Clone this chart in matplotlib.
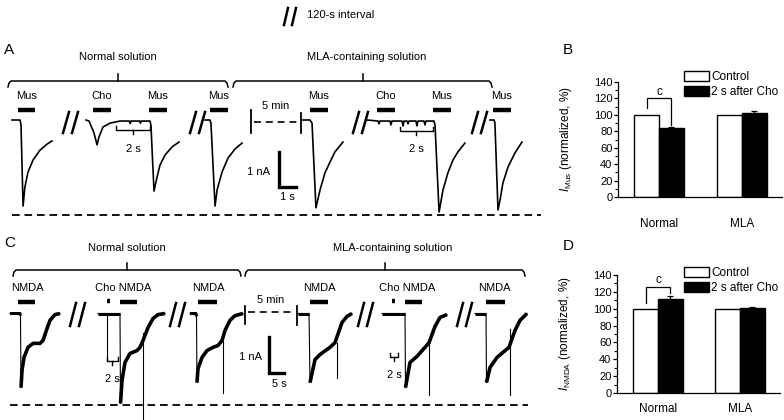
import numpy as np
import matplotlib.pyplot as plt
from matplotlib.patches import Patch

plt.rcParams['font.family'] = ['Liberation Sans', 'DejaVu Sans']
plt.rcParams['mathtext.fontset'] = 'custom'
plt.rcParams['mathtext.rm'] = 'Liberation Sans'
plt.rcParams['mathtext.it'] = 'Liberation Sans:italic'
plt.rcParams['lines.scale_dashes'] = False

# ---------------- panel A traces: time (s), current (nA) ----------------
mus_ctrl_t = [0, 0.47, 0.53, 0.65, 0.76, 0.94, 1.24, 1.65, 2.06, 2.35]
mus_ctrl_i = [0, 0, -0.14, -2.46, -1.91, -1.49, -1.14, -0.86, -0.69, -0.60]

cho_mus_t = [0, 0.18, 0.47, 0.65, 0.76, 1.0, 1.41, 2.0, 2.55, 2.6, 2.65, 3.15, 3.2, 3.25,
             3.76, 3.82, 4.0, 4.18, 4.35, 4.65, 5.06, 5.47]
cho_mus_i = [0, -0.03, -0.37, -0.71, -0.49, -0.2, -0.09, -0.03, -0.03, -0.1, -0.03, -0.03, -0.09, -0.03,
             -0.03, -0.14, -2.03, -1.63, -1.29, -1.0, -0.77, -0.63]

mus_rec_t = [0, 0.29, 0.35, 0.59, 0.71, 1.0, 1.35, 1.76, 2.18]
mus_rec_i = [0, 0, -0.09, -2.46, -2.0, -1.49, -1.09, -0.83, -0.66]

mla_mus_ctrl_t = [0, 0.47, 0.59, 0.82, 1.06, 1.35, 1.65, 1.94, 2.41]
mla_mus_ctrl_i = [0, 0, -0.09, -2.51, -2.0, -1.51, -1.2, -0.91, -0.63]

mla_cho_mus_t = [0, 0.65, 0.71, 0.76, 1.35, 1.41, 1.47, 2.06, 2.12, 2.18, 2.35, 2.41, 2.47,
                 2.88, 2.94, 3.0, 3.35, 3.41, 3.47, 3.94, 4.0, 4.24, 4.47, 4.76, 5.06, 5.35, 5.76]
mla_cho_mus_i = [0, -0.03, -0.11, -0.03, -0.03, -0.14, -0.03, -0.03, -0.17, -0.03, -0.03, -0.11, -0.03,
                 -0.03, -0.17, -0.03, -0.03, -0.14, -0.03, -0.03, -0.14, -2.63, -2.0, -1.51, -1.14, -0.91, -0.66]

mla_mus_rec_t = [0, 0.24, 0.29, 0.47, 0.59, 0.76, 1.06, 1.47, 1.88]
mla_mus_rec_i = [0, 0, -0.09, -2.57, -2.29, -1.8, -1.34, -0.94, -0.63]

# ---------------- panel C traces: time (s), current (nA) ----------------
nmda_ctrl_t = [0, 3.33, 3.5, 3.67, 4.0, 4.67, 6.0, 7.67, 10.0, 11.0, 12.33, 13.33, 15.0, 16.67]
nmda_ctrl_i = [0, 0, -0.06, -2.06, -1.58, -1.22, -0.94, -0.83, -0.83, -0.75, -0.42, -0.19, -0.03, 0]

cho_nmda_t = [0, 6.33, 7.33, 7.5, 8.0, 9.0, 10.67, 13.0, 14.0, 15.0, 16.67, 18.33, 20.0, 22.33]
cho_nmda_i = [0, 0, 0, -2.5, -1.86, -1.36, -1.11, -1.03, -0.94, -0.75, -0.39, -0.14, -0.03, 0]
cho_spike_t, cho_spike_i = 3.0, -1.31

nmda_rec_t = [0, 2.0, 2.17, 2.33, 2.67, 4.0, 5.67, 7.67, 9.33, 10.67, 11.67, 13.33, 15.0, 17.67]
nmda_rec_i = [0, 0, -0.08, -1.92, -1.53, -1.22, -1.03, -0.94, -0.89, -0.75, -0.47, -0.19, -0.06, 0]

mla_nmda_ctrl_t = [0, 3.67, 4.0, 5.67, 7.33, 10.67, 12.33, 14.67, 16.33, 18.0]
mla_nmda_ctrl_i = [0, 0, -1.92, -1.28, -1.14, -0.94, -0.81, -0.25, -0.08, 0]

mla_cho_nmda_t = [0, 7.0, 7.67, 7.83, 9.33, 11.67, 14.33, 15.67, 17.67, 19.33, 21.67]
mla_cho_nmda_i = [0, 0, 0, -2.06, -1.36, -1.19, -0.94, -0.81, -0.36, -0.11, -0.03]

mla_nmda_rec_t = [0, 3.67, 3.83, 5.0, 7.33, 9.33, 11.33, 13.33, 15.0, 17.33]
mla_nmda_rec_i = [0, 0, -1.92, -1.5, -1.22, -1.08, -0.94, -0.47, -0.19, 0]

# artifacts: (time in trace, top nA, bottom nA)
nmda_artifacts = [None, (15.0, -0.53, -3.0), (11.0, -0.75, -2.22),
                  (13.0, -0.81, -1.78), (15.67, -0.81, -2.25), (11.67, -0.44, -2.25)]

# ---------------- bar charts ----------------
groups = ['Normal', 'MLA']
mus_ctrl = [100, 100]
mus_cho = [84, 102.5]
mus_cho_err = [1, 2]
nmda_ctrl = [100, 100]
nmda_cho = [112, 101]
nmda_cho_err = [3, 1]

W, H = 784, 420
fig = plt.figure(figsize=(7.84, 4.2), dpi=100)

# pixel overlay for layout / annotation
ov = fig.add_axes([0, 0, 1, 1])
ov.set_xlim(0, W)
ov.set_ylim(H, 0)
ov.axis('off')

# trace axes in data units (s, nA)
sA, nA_A, yA = 17.0, 35.0, 120.0
sC, nA_C, yC = 3.0, 36.0, 313.5
axA = fig.add_axes([0, 0, 1, 1])
axA.set_xlim(0, W / sA)
axA.set_ylim(-(H - yA) / nA_A, yA / nA_A)
axA.axis('off')
axA.patch.set_alpha(0)
axC = fig.add_axes([0, 0, 1, 1])
axC.set_xlim(0, W / sC)
axC.set_ylim(-(H - yC) / nA_C, yC / nA_C)
axC.axis('off')
axC.patch.set_alpha(0)

onsets_A = [12, 86, 205, 302, 367, 490]
traces_A = [(mus_ctrl_t, mus_ctrl_i), (cho_mus_t, cho_mus_i), (mus_rec_t, mus_rec_i),
            (mla_mus_ctrl_t, mla_mus_ctrl_i), (mla_cho_mus_t, mla_cho_mus_i),
            (mla_mus_rec_t, mla_mus_rec_i)]
for x0, (t, i) in zip(onsets_A, traces_A):
    axA.plot(x0 / sA + np.array(t), i, color='k', lw=1.2)

onsets_C = [10, 98, 190, 298, 382, 475]
traces_C = [(nmda_ctrl_t, nmda_ctrl_i), (cho_nmda_t, cho_nmda_i), (nmda_rec_t, nmda_rec_i),
            (mla_nmda_ctrl_t, mla_nmda_ctrl_i), (mla_cho_nmda_t, mla_cho_nmda_i),
            (mla_nmda_rec_t, mla_nmda_rec_i)]
for k, (x0, (t, i)) in enumerate(zip(onsets_C, traces_C)):
    t = x0 / sC + np.array(t)
    i = np.array(i)
    m = int(np.argmin(i))
    axC.plot(t, i, color='k', lw=0.8)
    axC.plot(t[:m], i[:m], color='k', lw=2.2, solid_capstyle='butt')
    axC.plot(t[m:], i[m:], color='k', lw=2.6, solid_capstyle='butt')
    art = nmda_artifacts[k]
    if art is not None:
        axC.plot([x0 / sC + art[0]] * 2, [art[1], art[2]], color='k', lw=0.8)
# Cho fast response (normal solution)
axC.plot([onsets_C[1] / sC + cho_spike_t] * 2, [0, cho_spike_i], color='k', lw=0.8)

# scale bars
xa = 279 / sA
ya = -(152 - yA) / nA_A
axA.plot([xa, xa, xa + 1], [ya, ya - 1, ya - 1], color='k', lw=2.4, solid_joinstyle='miter')
xc = 269 / sC
yc = -(337 - yC) / nA_C
axC.plot([xc, xc, xc + 5], [yc, yc - 1, yc - 1], color='k', lw=2.4, solid_joinstyle='miter')
ov.text(270, 172, '1 nA', ha='right', va='center', fontsize=8)
ov.text(287, 197, '1 s', ha='center', va='center', fontsize=8)
ov.text(262, 357, '1 nA', ha='right', va='center', fontsize=8)
ov.text(279, 384, '5 s', ha='center', va='center', fontsize=8)

# top key
ov.plot([284, 288], [25, 8], color='k', lw=1.8)
ov.plot([292, 296], [25, 8], color='k', lw=1.8)
ov.text(307, 15, '120-s interval', ha='left', va='center', fontsize=8)

# panel letters
for s, x, y in [('A', 4, 50), ('B', 563, 50), ('C', 4, 243), ('D', 563, 246)]:
    ov.text(x, y, s, ha='left', va='center', fontsize=11)


def brace(x1, x2, xc, y):
    ov.plot([x1, x1 + 1, x1 + 3, x2 - 3, x2 - 1, x2], [y + 6, y + 2, y, y, y + 2, y + 6],
            color='k', lw=1.1)
    ov.plot([xc, xc], [y, y - 7], color='k', lw=1.1)


brace(8, 228, 118, 81)
brace(233, 492, 363, 81)
ov.text(118, 57, 'Normal solution', ha='center', va='center', fontsize=8)
ov.text(367, 57, 'MLA-containing solution', ha='center', va='center', fontsize=8)
brace(13, 241, 127, 270)
brace(245, 525, 385, 270)
ov.text(127, 248, 'Normal solution', ha='center', va='center', fontsize=8)
ov.text(393, 248, 'MLA-containing solution', ha='center', va='center', fontsize=8)

# drug application bars
labels_A = ['Mus', 'Cho', 'Mus', 'Mus', 'Mus', 'Cho', 'Mus', 'Mus']
bars_A = [(18, 35), (93, 111), (149, 167), (210, 228), (310, 328), (377, 395), (433, 451), (493, 511)]
for lab, (a, b) in zip(labels_A, bars_A):
    ov.plot([a, b], [110, 110], color='k', lw=3.2, solid_capstyle='butt')
    ov.text((a + b) / 2, 96, lab, ha='center', va='center', fontsize=8)

labels_C = [('NMDA', 27), ('Cho NMDA', 123), ('NMDA', 208), ('NMDA', 319), ('Cho NMDA', 407), ('NMDA', 494)]
bars_C = [(18, 35), (120, 137), (198, 217), (310, 328), (405, 422), (486, 505)]
for lab, x in labels_C:
    ov.text(x, 288, lab, ha='center', va='center', fontsize=8)
for a, b in bars_C:
    ov.plot([a, b], [302, 302], color='k', lw=3.2, solid_capstyle='butt')
for x in [109, 394]:
    ov.plot([x - 1.5, x + 1.5], [301, 301], color='k', lw=3.2, solid_capstyle='butt')

# breaks
for x in [63, 190, 353, 472]:
    ov.plot([x, x + 6], [133, 112], color='k', lw=1.8)
    ov.plot([x + 9, x + 15], [133, 112], color='k', lw=1.8)
for x in [70, 170, 358, 457]:
    ov.plot([x, x + 6], [326, 303], color='k', lw=1.8)
    ov.plot([x + 9, x + 15], [326, 303], color='k', lw=1.8)


def sbracket(x1, x2, y, ty):
    ov.plot([x1, x1, x2, x2], [y - 4, y, y, y - 4], color='k', lw=1.0)
    ov.plot([(x1 + x2) / 2] * 2, [y, y + 4], color='k', lw=1.0)
    ov.text((x1 + x2) / 2, ty, '2 s', ha='center', va='center', fontsize=8)


sbracket(116, 150, 130, 149)
sbracket(400, 433, 131, 149)
sbracket(107, 118, 361, 379)
sbracket(390, 398, 357, 375)

# 5 min gaps
ov.plot([251, 251], [110, 133], color='k', lw=1.3)
ov.plot([301, 301], [113, 133], color='k', lw=1.3)
ov.plot([254, 299], [122, 122], color='k', lw=1.2, dashes=(5, 3.5))
ov.text(276, 106, '5 min', ha='center', va='center', fontsize=8)
ov.plot([245, 245], [306, 324], color='k', lw=1.3)
ov.plot([297, 297], [306, 325], color='k', lw=1.3)
ov.plot([248, 295], [312, 312], color='k', lw=1.2, dashes=(5, 3.5))
ov.text(271, 300, '5 min', ha='center', va='center', fontsize=8)

# peak reference lines
ov.plot([12, 541], [215, 215], color='k', lw=1.3, dashes=(5.5, 3.5))
ov.plot([10, 528], [405, 405], color='k', lw=1.3, dashes=(5.5, 3.5))


def bar_panel(rect, xlim, ctrl, cho, err, ylab, sig, leg_y, tick_pad):
    ax = fig.add_axes(rect)
    x = np.arange(len(groups))
    w = 0.3
    ax.bar(x - w / 2, ctrl, w, color='white', edgecolor='black', lw=1.0)
    ax.bar(x + w / 2, cho, w, color='black', edgecolor='black', lw=1.0,
           yerr=err, capsize=2, error_kw=dict(lw=0.9, capthick=0.9, ecolor='black'))
    ax.set_xlim(*xlim)
    ax.set_ylim(0, 140)
    ax.set_yticks(np.arange(0, 141, 20))
    ax.set_yticks(np.arange(10, 140, 20), minor=True)
    ax.set_xticks(x)
    ax.set_xticklabels(groups, fontsize=8.5)
    ax.tick_params(axis='x', length=0, pad=tick_pad)
    ax.tick_params(axis='y', labelsize=8, length=3, width=0.9, pad=1)
    ax.tick_params(axis='y', which='minor', length=2, width=0.8)
    for sp in ['top', 'right']:
        ax.spines[sp].set_visible(False)
    for sp in ['left', 'bottom']:
        ax.spines[sp].set_linewidth(0.9)
    ax.set_ylabel(ylab, fontsize=8.5)
    ax.yaxis.set_label_coords(-0.27, 0.5)
    ax.plot([-w / 2, -w / 2, w / 2, w / 2], sig[:4], color='k', lw=0.9)
    ax.text(0, sig[4], 'c', ha='center', va='bottom', fontsize=8.5)
    ax.legend([Patch(fc='white', ec='black'), Patch(fc='black', ec='black')],
              ['Control', '2 s after Cho'], loc='upper left',
              bbox_to_anchor=(684 / W, 1 - leg_y / H), bbox_transform=fig.transFigure,
              frameon=False, fontsize=8.5, handlelength=2.1, handleheight=0.85,
              handletextpad=0.2, labelspacing=0.25, borderpad=0, borderaxespad=0)
    return ax


bar_panel([618 / W, 1 - 197 / H, 164 / W, 115 / H], (-0.494, 1.482),
          mus_ctrl, mus_cho, mus_cho_err, r'$I_{\mathrm{Mus}}$ (normalized, %)',
          [108, 120.5, 120.5, 88, 121], 71, 15)
bar_panel([617 / W, 1 - 393 / H, 163 / W, 118 / H], (-0.5, 1.488),
          nmda_ctrl, nmda_cho, nmda_cho_err, r'$I_{\mathrm{NMDA}}$ (normalized, %)',
          [107, 126, 126, 118.5, 127], 267, 7)

fig.savefig('out.png', dpi=100)
